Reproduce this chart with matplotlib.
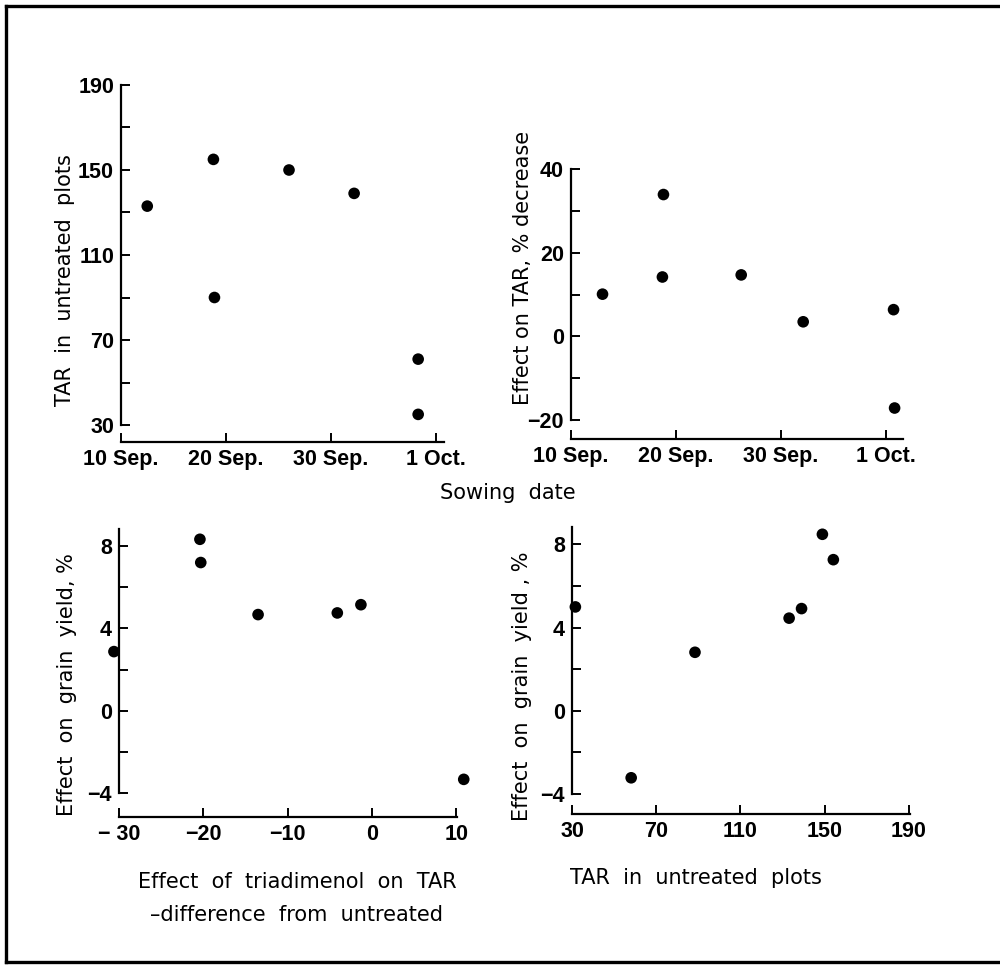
'''
TAR and grain yield responses to sowing date and triadimenol
'''

from matplotlib import pyplot as plt
from matplotlib.lines import Line2D

# days after 10 Sep. (the last tick is labelled "1 Oct." in the original)
date_ticks = [0, 10, 20, 30]
date_labels = ['10 Sep.', '20 Sep.', '30 Sep.', '1 Oct.']

# top left: TAR in untreated plots against sowing date
sow_days_a = [2.5, 8.8, 8.9, 16.0, 22.2, 28.3, 28.3]
tar_untreated = [133, 155, 90, 150, 139, 61, 35]

# top right: effect on TAR, % decrease, against sowing date
sow_days_b = [3.0, 8.8, 8.7, 16.2, 22.1, 30.7, 30.8]
tar_decrease = [10.1, 33.9, 14.2, 14.7, 3.5, 6.4, -17.1]

# bottom left: yield effect against triadimenol effect on TAR
tar_difference = [-20.4, -20.3, -13.5, -4.1, -1.3, -30.6, 10.9]
yield_effect_c = [8.33, 7.2, 4.67, 4.75, 5.15, 2.87, -3.34]

# bottom right: yield effect against TAR in untreated plots
tar_untreated_d = [31.6, 58.1, 88.4, 133.1, 139.0, 148.9, 154.1]
yield_effect_d = [4.99, -3.22, 2.81, 4.45, 4.91, 8.48, 7.26]

W, H = 1000, 971
TICK_FONT = dict(family=['Liberation Sans', 'DejaVu Sans'],
                 weight='bold', size=15.5)
LABEL_FONT = dict(family=['DejaVu Sans'], size=15)


def add_axes(fig, left, right, top, bottom):
    return fig.add_axes([left / W, 1 - bottom / H,
                         (right - left) / W, (bottom - top) / H])


def style_axes(ax, yticks, yminor, ybounds, xticks, xlabels=None):
    for side in ['top', 'right']:
        ax.spines[side].set_visible(False)
    for side in ['left', 'bottom']:
        ax.spines[side].set_linewidth(1.6)
    ax.spines['left'].set_bounds(*ybounds)
    ax.set_yticks(yticks)
    ax.set_yticks(yminor, minor=True)
    ax.set_xticks(xticks)
    if xlabels is not None:
        ax.set_xticklabels(xlabels)
    ax.tick_params(which='both', direction='in', length=6.5, width=1.4,
                   pad=5, color='black')
    for lab in ax.get_xticklabels() + ax.get_yticklabels():
        lab.set(**TICK_FONT)


def scatter(ax, x, y):
    ax.scatter(x, y, s=70, color='black', zorder=3, clip_on=False,
               edgecolors='none')


def create_figure():
    fig = plt.figure(figsize=(10, 9.71), dpi=100)

    # top left
    ax1 = add_axes(fig, 121, 444, 85, 442)
    ax1.set_xlim(0, 30.76)
    ax1.set_ylim(22, 190)
    scatter(ax1, sow_days_a, tar_untreated)
    style_axes(ax1, [30, 70, 110, 150, 190], [50, 90, 130, 170], (30, 190),
               date_ticks, date_labels)

    # top right
    ax2 = add_axes(fig, 571, 903, 169, 439)
    ax2.set_xlim(0, 31.6)
    ax2.set_ylim(-24.5, 40)
    scatter(ax2, sow_days_b, tar_decrease)
    style_axes(ax2, [-20, 0, 20, 40], [-10, 10, 30], (-20, 40),
               date_ticks, date_labels)

    # bottom left
    ax3 = add_axes(fig, 119, 457, 529, 817)
    ax3.set_xlim(-30, 10.1)
    ax3.set_ylim(-5.17, 8.83)
    scatter(ax3, tar_difference, yield_effect_c)
    style_axes(ax3, [-4, 0, 4, 8], [-2, 2, 6], (-4, 8.83),
               [-30, -20, -10, 0, 10], ['\u2212 30', '\u221220', '\u221210', '0', '10'])

    # bottom right
    ax4 = add_axes(fig, 572, 910, 527, 814)
    ax4.set_xlim(30, 190.5)
    ax4.set_ylim(-4.96, 8.83)
    scatter(ax4, tar_untreated_d, yield_effect_d)
    style_axes(ax4, [-4, 0, 4, 8], [-2, 2, 6], (-4, 8.83),
               [30, 70, 110, 150, 190])

    # axis titles
    fig.text(65 / W, 1 - 280 / H, 'TAR  in  untreated  plots', rotation=90,
             ha='center', va='center', **LABEL_FONT)
    fig.text(523 / W, 1 - 268 / H, 'Effect on TAR, % decrease', rotation=90,
             ha='center', va='center', **LABEL_FONT)
    fig.text(67 / W, 1 - 685 / H, 'Effect  on  grain  yield, %', rotation=90,
             ha='center', va='center', **LABEL_FONT)
    fig.text(522 / W, 1 - 686 / H, 'Effect  on  grain  yield , %', rotation=90,
             ha='center', va='center', **LABEL_FONT)
    fig.text(508 / W, 1 - 493 / H, 'Sowing  date', ha='center', va='center',
             **LABEL_FONT)
    fig.text(297 / W, 1 - 882 / H, 'Effect  of  triadimenol  on  TAR',
             ha='center', va='center', **LABEL_FONT)
    fig.text(297 / W, 1 - 915 / H, '\u2013difference  from  untreated',
             ha='center', va='center', **LABEL_FONT)
    fig.text(570 / W, 1 - 878 / H, 'TAR  in  untreated  plots',
             ha='left', va='center', **LABEL_FONT)

    # border round the whole figure
    for xs, ys in [([6, 6], [6, 962]), ([6, 1000], [6, 6]),
                   ([6, 1000], [962, 962])]:
        fig.add_artist(Line2D([x / W for x in xs], [1 - y / H for y in ys],
                              color='black', linewidth=2.4))

    fig.savefig('out.png', dpi=100, facecolor='white')


if __name__ == '__main__':
    create_figure()
